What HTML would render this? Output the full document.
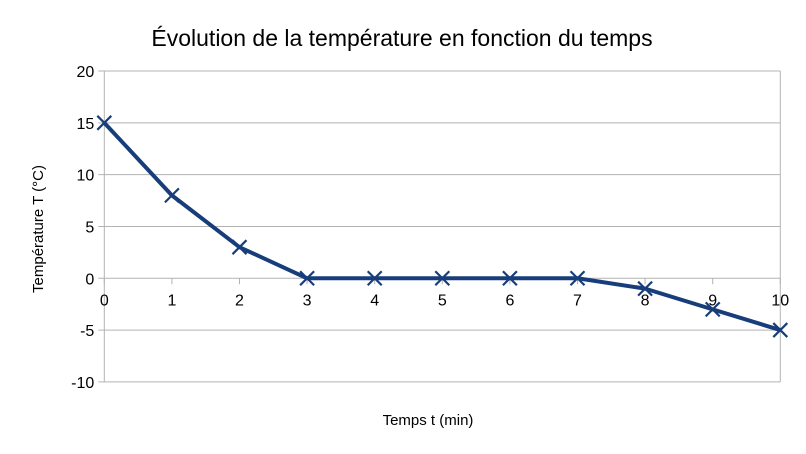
<!DOCTYPE html>
<html><head><meta charset="utf-8"><style>
body{margin:0;background:#fff;}
svg{display:block;font-family:"Liberation Sans",sans-serif;}
</style></head><body>
<svg id="chart" width="806" height="454">
<text x="402" y="46" text-anchor="middle" font-size="23" fill="#000">Évolution de la température en fonction du temps</text>
<text x="428" y="425" text-anchor="middle" font-size="15">Temps t (min)</text>
<text transform="translate(43,229) rotate(-90)" text-anchor="middle" font-size="15">Température T (°C)</text>
<g id="grid"></g><g id="axes"></g><g id="series"></g>
</svg>
<script>
const categories=[0,1,2,3,4,5,6,7,8,9,10];
const temps=[15,8,3,0,0,0,0,0,-1,-3,-5];
const yTicks=[-10,-5,0,5,10,15,20];
const NS="http://www.w3.org/2000/svg";
const x0=104.3,xw=67.6,yTop=71,yBot=381.9,yMin=-10,yMax=20;
function X(v){return x0+(v-categories[0])*xw;}
function Y(v){return yBot-(v-yMin)/(yMax-yMin)*(yBot-yTop);}
function mk(t,a,p){const e=document.createElementNS(NS,t);for(const k in a)e.setAttribute(k,a[k]);p.appendChild(e);return e;}
const grid=document.getElementById('grid'),axes=document.getElementById('axes'),ser=document.getElementById('series');
const xEnd=X(categories[categories.length-1]);
yTicks.forEach(v=>{
  const l=mk('line',{x1:x0-6,x2:xEnd,y1:Y(v),y2:Y(v),stroke:'#b3b3b3','stroke-width':1},grid);
  
  
  const t=mk('text',{x:x0-10,y:Y(v)+6,'text-anchor':'end','font-size':16},axes);
  t.textContent=v;
  
  
});
mk('line',{x1:x0,x2:x0,y1:yTop,y2:yBot,stroke:'#b3b3b3'},grid);
mk('line',{x1:xEnd,x2:xEnd,y1:yTop,y2:yBot,stroke:'#b3b3b3'},grid);
categories.forEach(c=>{
  mk('line',{x1:X(c),x2:X(c),y1:Y(0),y2:Y(0)+6,stroke:'#b3b3b3'},axes);
  const t=mk('text',{x:X(c),y:Y(0)+27,'text-anchor':'middle','font-size':16},axes);
  t.textContent=c;
  
  
});
const pts=categories.map((c,i)=>X(c)+','+Y(temps[i])).join(' ');
const pl=mk('polyline',{points:pts,fill:'none',stroke:'#173d7a','stroke-width':4,'stroke-linejoin':'round'},ser);


categories.forEach((c,i)=>{
  const x=X(c),y=Y(temps[i]),s=7;
  const p=mk('path',{d:`M${x-s},${y-s}L${x+s},${y+s}M${x-s},${y+s}L${x+s},${y-s}`,stroke:'#173d7a','stroke-width':2.2},ser);
  
  
});
</script>
</body></html>
